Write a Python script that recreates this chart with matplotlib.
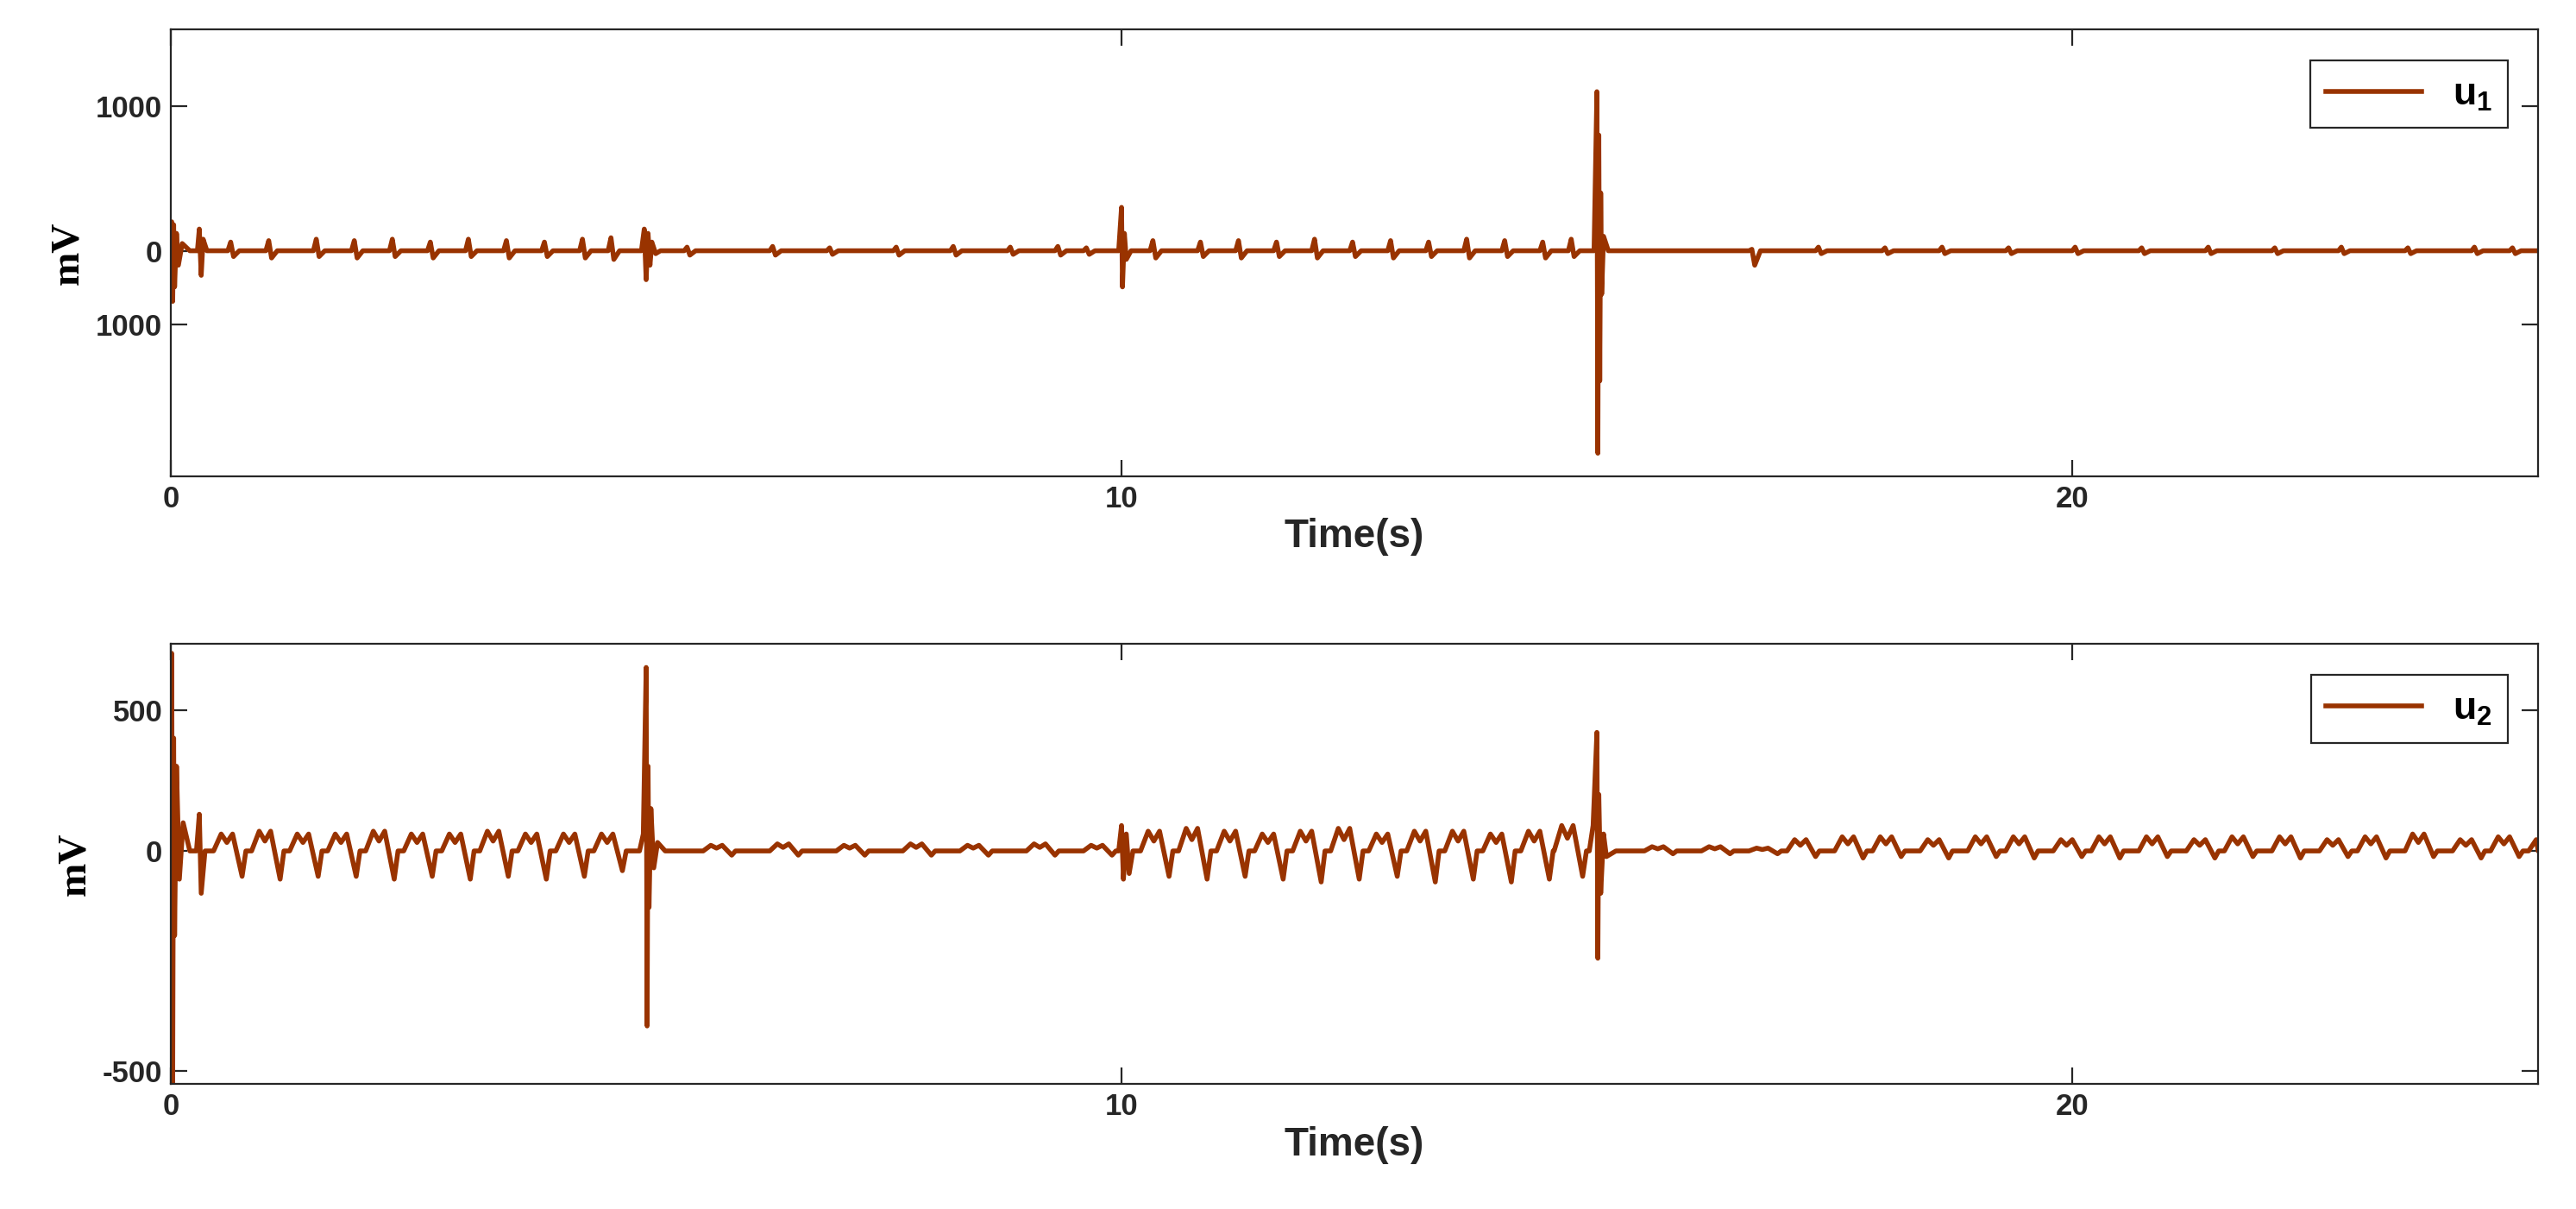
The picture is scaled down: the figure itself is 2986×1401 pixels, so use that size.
import matplotlib
matplotlib.use("Agg")
import matplotlib.pyplot as plt

COLOR = "#993300"
plt.rcParams['mathtext.fontset'] = 'custom'
plt.rcParams['mathtext.bf'] = 'Liberation Sans:bold'

# ---- data ----
u1_burst_t = [0.0, 0.01, 0.02, 0.03, 0.04, 0.06, 0.08, 0.12, 0.2, 0.28, 0.3, 0.32, 0.34, 0.38,
              4.95, 4.98, 5.0, 5.02, 5.04, 5.06, 5.1, 5.15,
              9.97, 10.0, 10.01, 10.03, 10.05, 10.1,
              14.97, 15.0, 15.01, 15.02, 15.03, 15.04, 15.05, 15.07, 15.12]
u1_burst_v = [0, 200, -350, 180, -250, 120, -100, 50, 0, 0, 150, -170, 80, 0,
              0, 150, -200, 120, -100, 60, -20, 0,
              0, 300, -250, 120, -60, 0,
              0, 1100, -1400, 800, -900, 400, -300, 100, 0]
u1_cyc_t = [0.6, 1.0, 1.5, 1.9, 2.3, 2.7, 3.1, 3.5, 3.9, 4.3, 4.6,
            5.4, 6.3, 6.9, 7.6, 8.2, 8.8, 9.3, 9.6,
            10.3, 10.8, 11.2, 11.6, 12.0, 12.4, 12.8, 13.2, 13.6, 14.0, 14.4, 14.7,
            16.6, 17.3, 18.0, 18.6, 19.3, 20.0, 20.7, 21.4, 22.1, 22.8, 23.5, 24.2, 24.6]
u1_cyc_peak = [60, 70, 80, 70, 80, 60, 80, 70, 60, 80, 90,
               25, 30, 20, 25, 30, 25, 30, 20,
               70, 60, 70, 60, 80, 60, 70, 60, 80, 70, 60, 80,
               10, 25, 20, 25, 20, 25, 20, 25, 20, 25, 20, 25, 20]
u1_cyc_dip = [-40, -50, -40, -50, -40, -50, -40, -50, -40, -50, -60,
              -30, -30, -25, -30, -30, -25, -30, -25,
              -50, -40, -50, -40, -50, -40, -50, -40, -50, -40, -50, -40,
              -100, -20, -20, -20, -20, -20, -20, -20, -20, -20, -20, -20, -20]

u2_burst_t = [0.0, 0.01, 0.02, 0.03, 0.04, 0.06, 0.09, 0.13, 0.2, 0.27, 0.3, 0.32, 0.36,
              4.93, 4.97, 5.0, 5.01, 5.02, 5.03, 5.05, 5.08, 5.12, 5.2,
              9.97, 10.0, 10.02, 10.05, 10.08, 10.12,
              14.92, 14.96, 15.0, 15.01, 15.02, 15.04, 15.07, 15.1, 15.2]
u2_burst_v = [0, 700, -826, 400, -300, 300, -100, 100, 0, 0, 130, -150, 0,
              0, 60, 650, -620, 300, -200, 150, -60, 30, 0,
              0, 90, -100, 60, -80, 0,
              0, 90, 420, -380, 200, -150, 60, -20, 0]
u2_cyc_t = [0.45, 0.85, 1.25, 1.65, 2.05, 2.45, 2.85, 3.25, 3.65, 4.05, 4.45,
            5.6, 6.3, 7.0, 7.7, 8.3, 9.0, 9.6,
            10.2, 10.6, 11.0, 11.4, 11.8, 12.2, 12.6, 13.0, 13.4, 13.8, 14.2, 14.55,
            15.5, 16.1, 16.6,
            17.0, 17.5, 17.9, 18.4, 18.9, 19.3, 19.8, 20.2, 20.7, 21.2, 21.6, 22.1,
            22.6, 23.0, 23.5, 24.0, 24.4, 24.8]
u2_cyc_peak = [60, 70, 60, 60, 70, 60, 60, 70, 60, 60, 60,
               20, 25, 20, 25, 20, 25, 20,
               70, 80, 70, 60, 70, 80, 60, 70, 70, 60, 70, 90,
               15, 15, 10,
               40, 50, 50, 40, 50, 50, 40, 50, 50, 40, 50, 50, 40, 50, 60, 40, 50, 40]
u2_cyc_dip = [-90, -100, -90, -90, -100, -90, -100, -90, -100, -90, -70,
              -15, -15, -15, -15, -15, -15, -15,
              -90, -100, -90, -100, -110, -100, -90, -110, -100, -110, -100, -90,
              -10, -10, -10,
              -20, -25, -20, -25, -20, -25, -20, -25, -20, -25, -20, -25, -20, -25, -20, -25, -20, -25]

xlim = (0, 24.9)
u1_ylim = (-1560, 1530)
u2_ylim = (-826, 733)
u1_ticks = [-510, 0, 1000]
u1_ticklabels = ["1000", "0", "1000"]
u2_ticks = [-780, 0, 500]
u2_ticklabels = ["-500", "0", "500"]
xticks = [0, 10, 20]


def spike_series(bt, bv, ct, cp, cd, osc):
    pts = list(zip(bt, bv))
    for t0, p, d in zip(ct, cp, cd):
        if osc:
            pts += [(t0, 0), (t0 + 0.08, p), (t0 + 0.14, p * 0.5), (t0 + 0.2, p),
                    (t0 + 0.3, d), (t0 + 0.34, 0)]
        else:
            pts += [(t0, 0), (t0 + 0.03, p), (t0 + 0.06, d), (t0 + 0.12, 0)]
    pts.append((xlim[1], 0))
    pts.sort()
    return [p[0] for p in pts], [p[1] for p in pts]


t1, v1 = spike_series(u1_burst_t, u1_burst_v, u1_cyc_t, u1_cyc_peak, u1_cyc_dip, False)
t2, v2 = spike_series(u2_burst_t, u2_burst_v, u2_cyc_t, u2_cyc_peak, u2_cyc_dip, True)

fig = plt.figure(figsize=(14.93, 7.005), dpi=200)
ax1 = fig.add_axes([0.0663, 0.606, 0.919, 0.3696])
ax2 = fig.add_axes([0.0663, 0.1033, 0.919, 0.364])

for ax, t, v, yl, yt, ytl, lab in [
        (ax1, t1, v1, u1_ylim, u1_ticks, u1_ticklabels, r"$\mathbf{u_1}$"),
        (ax2, t2, v2, u2_ylim, u2_ticks, u2_ticklabels, r"$\mathbf{u_2}$")]:
    ax.plot(t, v, color=COLOR, lw=2.0, label=lab)
    ax.set_xlim(*xlim)
    ax.set_ylim(*yl)
    ax.set_yticks(yt)
    ax.set_yticklabels(ytl)
    ax.set_xticks(xticks)
    ax.tick_params(direction="in", length=7, width=0.8, top=True, right=True,
                   labelsize=12.5, colors="#262626")
    for lbl in ax.get_xticklabels() + ax.get_yticklabels():
        lbl.set_fontweight("bold")
        lbl.set_family("Liberation Sans")
    for s in ax.spines.values():
        s.set_linewidth(0.8)
        s.set_color("#262626")
    ax.set_xlabel("Time(s)", fontsize=16.5, fontweight="bold", family="Liberation Sans",
                  color="#262626", labelpad=2)
    ax.set_ylabel("mV", fontsize=17, fontweight="bold", family="Liberation Serif", labelpad=4)
    leg = ax.legend(loc="upper right", fontsize=16, fancybox=False, framealpha=1,
                    edgecolor="#262626", handlelength=2.5, borderaxespad=0.8)
    leg.get_frame().set_linewidth(0.8)

fig.savefig("out.png", dpi=200)
